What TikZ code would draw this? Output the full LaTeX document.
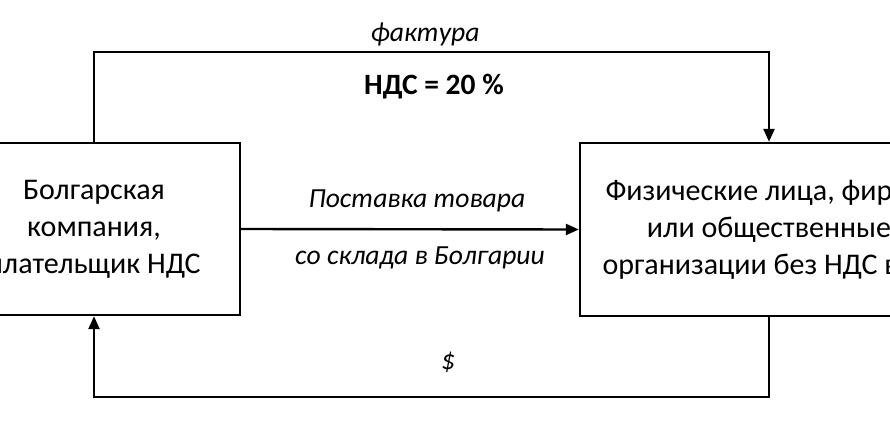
\documentclass[tikz,border=0pt]{standalone}
\usepackage{fontspec}
\setmainfont{Carlito}
\usetikzlibrary{arrows.meta}
\begin{document}
\begin{tikzpicture}[x=1pt,y=-1pt,
  box/.style={draw=black,line width=2.4pt,fill=white,align=center,inner sep=0pt,font=\fontsize{30}{37}\selectfont},
  arr/.style={draw=black,line width=2.4pt,-{Triangle[length=13pt,width=11pt]}},
  lbl/.style={font=\fontsize{27.6}{30}\selectfont\itshape,inner sep=0pt},
  lblb/.style={font=\fontsize{29.5}{30}\selectfont\bfseries,inner sep=0pt}]
\useasboundingbox (0,0) rectangle (890,428);
\clip (0,0) rectangle (890,428);
\fill[white] (0,0) rectangle (890,428);
\node[box,minimum width=292pt,minimum height=172pt] (L) at (94,229)
  {Болгарская\\компания,\\плательщик НДС};
\node[box,minimum width=378pt,minimum height=173pt] (R) at (769,229.5)
  {Физические лица, фирмы\\или общественные\\организации без НДС в ЕС};
\draw[arr] (L.north) -- (L.north |- 0,52) -| (R.north);
\draw[arr] (L.east) -- (R.west);
\draw[arr] (R.south) |- (L.south |- 0,397) -- (L.south);
\node[lbl] (f) at (425,34) {фактура};
\node[lblb] (v) at (434,87) {НДС = 20 \%};
\node[lbl] (p1) at (417,201) {Поставка товара};
\node[lbl] (p2) at (420,258) {со склада в Болгарии};
\node[lbl] (d) at (448,362) {\$};
\end{tikzpicture}
\end{document}
